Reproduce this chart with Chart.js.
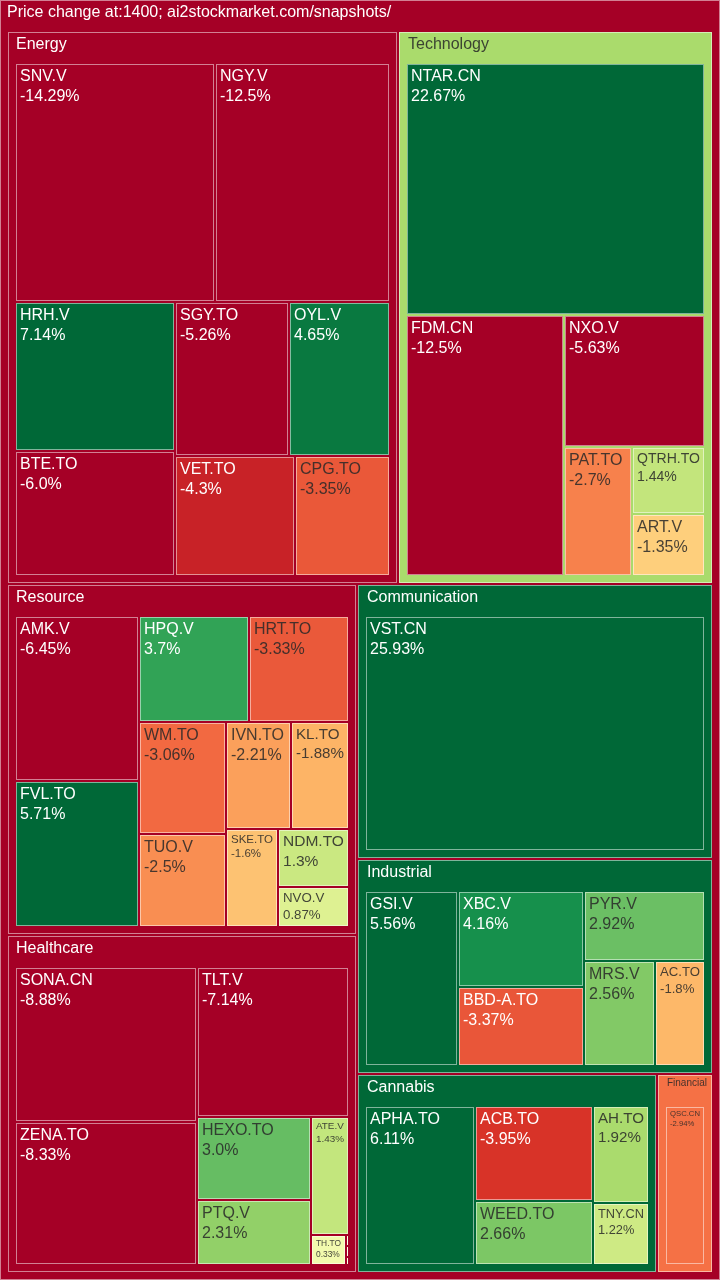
<!DOCTYPE html>
<html>
<head>
<meta charset="utf-8">
<script src="https://cdn.jsdelivr.net/npm/chart.js@4"></script>
<style>
  html, body { margin: 0; padding: 0; background: #a50026; }
  #wrap { width: 720px; height: 1280px; }
</style>
</head>
<body>
<div id="wrap"><canvas id="myChart"></canvas></div>
<script>
// treemap of price changes, sized by weight, coloured by % change

var title = 'Price change at:1400; ai2stockmarket.com/snapshots/';

var sectorNames = ['Energy', 'Technology', 'Resource', 'Healthcare', 'Communication', 'Industrial', 'Cannabis', 'Financial'];

var symbols = [
    'SNV.V', 'NGY.V', 'HRH.V', 'BTE.TO', 'SGY.TO', 'OYL.V', 'VET.TO', 'CPG.TO',
    'NTAR.CN', 'FDM.CN', 'NXO.V', 'PAT.TO', 'QTRH.TO', 'ART.V',
    'AMK.V', 'FVL.TO', 'HPQ.V', 'HRT.TO', 'WM.TO', 'TUO.V', 'IVN.TO', 'KL.TO', 'SKE.TO', 'NDM.TO', 'NVO.V',
    'SONA.CN', 'ZENA.TO', 'TLT.V', 'HEXO.TO', 'PTQ.V', 'ATE.V', 'TH.TO', '', '', '',
    'VST.CN',
    'GSI.V', 'XBC.V', 'BBD-A.TO', 'PYR.V', 'MRS.V', 'AC.TO',
    'APHA.TO', 'ACB.TO', 'WEED.TO', 'AH.TO', 'TNY.CN',
    'QSC.CN'
];

var symbolSectors = [
    'Energy', 'Energy', 'Energy', 'Energy', 'Energy', 'Energy', 'Energy', 'Energy',
    'Technology', 'Technology', 'Technology', 'Technology', 'Technology', 'Technology',
    'Resource', 'Resource', 'Resource', 'Resource', 'Resource', 'Resource', 'Resource', 'Resource', 'Resource', 'Resource', 'Resource',
    'Healthcare', 'Healthcare', 'Healthcare', 'Healthcare', 'Healthcare', 'Healthcare', 'Healthcare', 'Healthcare', 'Healthcare', 'Healthcare',
    'Communication',
    'Industrial', 'Industrial', 'Industrial', 'Industrial', 'Industrial', 'Industrial',
    'Cannabis', 'Cannabis', 'Cannabis', 'Cannabis', 'Cannabis',
    'Financial'
];

var sizes = [
    53.48, 47.03, 26.92, 22.58, 19.65, 17.56, 16.12, 12.87,
    85.45, 46.83, 21.19, 10.07, 5.49, 5.16,
    24.16, 21.38, 13.77, 12.51, 11.51, 9.45, 8.26, 7.38, 6.01, 4.86, 3.35,
    33.53, 30.92, 27.28, 11.12, 8.85, 5.36, 1.25, 0.04, 0.04, 0.03,
    97.54,
    21.00, 15.48, 12.74, 10.93, 9.62, 6.77,
    23.12, 14.82, 9.98, 7.18, 4.59,
    11.14
];

var changes = [
    -14.29, -12.5, 7.14, -6.0, -5.26, 4.65, -4.3, -3.35,
    22.67, -12.5, -5.63, -2.7, 1.44, -1.35,
    -6.45, 5.71, 3.7, -3.33, -3.06, -2.5, -2.21, -1.88, -1.6, 1.3, 0.87,
    -8.88, -8.33, -7.14, 3.0, 2.31, 1.43, 0.33, 0, 0, 0,
    25.93,
    5.56, 4.16, -3.37, 2.92, 2.56, -1.8,
    6.11, -3.95, 2.66, 1.92, 1.22,
    -2.94
];

// RdYlGn colour scale, clipped at +-5%
var rdYlGn = ['#a50026', '#d73027', '#f46d43', '#fdae61', '#fee08b', '#ffffbf', '#d9ef8b', '#a6d96a', '#66bd63', '#1a9850', '#006837'];

function hexToRgb(h) {
    return [parseInt(h.substr(1, 2), 16), parseInt(h.substr(3, 2), 16), parseInt(h.substr(5, 2), 16)];
}

function colorFor(v) {
    var t = Math.max(0, Math.min(1, (v + 5) / 10)) * 10;
    var i = Math.min(9, Math.floor(t));
    var f = t - i;
    var a = hexToRgb(rdYlGn[i]), b = hexToRgb(rdYlGn[i + 1]);
    var c = a.map((x, k) => Math.round(x + (b[k] - x) * f));
    return 'rgb(' + c.join(',') + ')';
}

function textColorFor(v) {
    return Math.abs(v) >= 3.36 ? '#ffffff' : 'rgba(40,40,40,0.85)';
}

function fmtPct(v) {
    return (Number.isInteger(v) ? v.toFixed(1) : String(v)) + '%';
}

// squarified layout, largest first
function squarify(items, rect) {
    var total = items.reduce((s, o) => s + o.v, 0);
    var ratio = rect.w * rect.h / total;
    var r = { x: rect.x, y: rect.y, w: rect.w, h: rect.h };
    var out = [];
    var row = [];

    function worst(list, len) {
        var s = 0, mn = Infinity, mx = -Infinity;
        list.forEach(o => {
            var n = o.v * ratio;
            s += n; mn = Math.min(mn, n); mx = Math.max(mx, n);
        });
        var l2 = len * len, s2 = s * s;
        return Math.max(l2 * mx / s2, s2 / (l2 * mn));
    }

    function layoutRow(list) {
        var s = list.reduce((a, o) => a + o.v * ratio, 0);
        if (r.w >= r.h) {
            var w = s / r.h, y = r.y;
            list.forEach(o => {
                var h = o.v * ratio / w;
                out.push({ item: o, x: r.x, y: y, w: w, h: h });
                y += h;
            });
            r.x += w; r.w -= w;
        } else {
            var h = s / r.w, x = r.x;
            list.forEach(o => {
                var w = o.v * ratio / h;
                out.push({ item: o, x: x, y: r.y, w: w, h: h });
                x += w;
            });
            r.y += h; r.h -= h;
        }
    }

    items.slice().sort((a, b) => b.v - a.v).forEach(o => {
        var len = Math.min(r.w, r.h);
        if (row.length && worst(row.concat([o]), len) > worst(row, len)) {
            layoutRow(row);
            row = [];
        }
        row.push(o);
    });
    if (row.length) layoutRow(row);
    return out;
}

// build the tree from the flat arrays
var sectors = sectorNames.map(name => {
    var kids = [];
    symbols.forEach((s, i) => {
        if (symbolSectors[i] === name) kids.push({ name: s, v: sizes[i], change: changes[i] });
    });
    return {
        name: name,
        v: kids.reduce((a, k) => a + k.v, 0),
        change: kids.reduce((a, k) => a + k.change, 0),
        children: kids
    };
});
var totalChange = sectors.reduce((a, s) => a + s.change, 0);

var FONT = '"Liberation Sans", Arial, sans-serif';

function fitSize(ctx, lines, w, h, maxSize) {
    ctx.font = maxSize + 'px ' + FONT;
    var tw = Math.max.apply(null, lines.map(t => ctx.measureText(t).width));
    return Math.min(maxSize, maxSize * (w - 8) / tw, (h - 4) / (lines.length * 1.28));
}

var treemapPlugin = {
    id: 'treemapCells',
    afterDatasetsDraw: function (chart) {
        var ctx = chart.ctx;
        var xs = chart.scales.x, ys = chart.scales.y;

        function toPx(r) {
            var x0 = Math.round(xs.getPixelForValue(r.x)), x1 = Math.round(xs.getPixelForValue(r.x + r.w));
            var y0 = Math.round(ys.getPixelForValue(r.y)), y1 = Math.round(ys.getPixelForValue(r.y + r.h));
            return { x: Math.min(x0, x1), y: Math.min(y0, y1), w: Math.abs(x1 - x0), h: Math.abs(y1 - y0) };
        }

        function box(r, fill) {
            var p = toPx(r);
            ctx.fillStyle = fill;
            ctx.fillRect(p.x, p.y, p.w, p.h);
            if (p.w >= 1 && p.h >= 1) {
                ctx.strokeStyle = 'rgba(255,255,255,0.5)';
                ctx.lineWidth = 1;
                ctx.strokeRect(p.x + 0.5, p.y + 0.5, Math.max(0, p.w - 1), Math.max(0, p.h - 1));
            }
            return p;
        }

        function caption(p, text, v, dx) {
            var size = Math.min(16, fitSize(ctx, [text], p.w - 6, 40, 16));
            ctx.font = size + 'px ' + FONT;
            ctx.fillStyle = textColorFor(v);
            ctx.textBaseline = 'alphabetic';
            ctx.textAlign = 'left';
            ctx.fillText(text, p.x + dx, p.y + 2 + 0.93 * size);
        }

        function label(p, lines, v) {
            if (!lines[0]) return;
            var size = fitSize(ctx, lines, p.w, p.h, 16);
            if (size < 4) return;
            ctx.font = size + 'px ' + FONT;
            ctx.fillStyle = textColorFor(v);
            ctx.textBaseline = 'alphabetic';
            ctx.textAlign = 'left';
            lines.forEach((t, k) => ctx.fillText(t, p.x + 4, p.y + 2 + 0.93 * size + k * 1.28 * size));
        }

        function inner(r) {
            return { x: r.x + 7, y: r.y + 31, w: r.w - 14, h: r.h - 38 };
        }
        function shrink(c) {
            return { x: c.x + 1, y: c.y + 1, w: c.w - 2, h: c.h - 2 };
        }

        ctx.save();
        var root = { x: 0, y: 0, w: 720, h: 1280 };
        var rootPx = box(root, colorFor(totalChange));
        caption(rootPx, title, totalChange, 7);

        squarify(sectors, inner(root)).forEach(sc => {
            var sr = shrink(sc);
            var sec = sc.item;
            var sp = box(sr, colorFor(sec.change));
            caption(sp, sec.name, sec.change, sp.x > 300 ? 9 : 8);
            squarify(sec.children, inner(sr)).forEach(lc => {
                var lr = shrink(lc);
                var lp = box(lr, colorFor(lc.item.change));
                label(lp, [lc.item.name, fmtPct(lc.item.change)], lc.item.change);
            });
        });
        ctx.restore();
    }
};

Chart.defaults.font.family = FONT;

var ctx = document.getElementById('myChart').getContext('2d');
var myChart = new Chart(ctx, {
    type: 'scatter',
    data: { datasets: [] },
    options: {
        responsive: true,
        maintainAspectRatio: false,
        devicePixelRatio: 1,
        animation: false,
        layout: { padding: 0 },
        plugins: {
            legend: { display: false },
            tooltip: { enabled: false },
            title: { display: false }
        },
        scales: {
            x: { type: 'linear', min: 0, max: 720, display: false },
            y: { type: 'linear', min: 0, max: 1280, reverse: true, display: false }
        }
    },
    plugins: [treemapPlugin]
});
</script>
</body>
</html>
